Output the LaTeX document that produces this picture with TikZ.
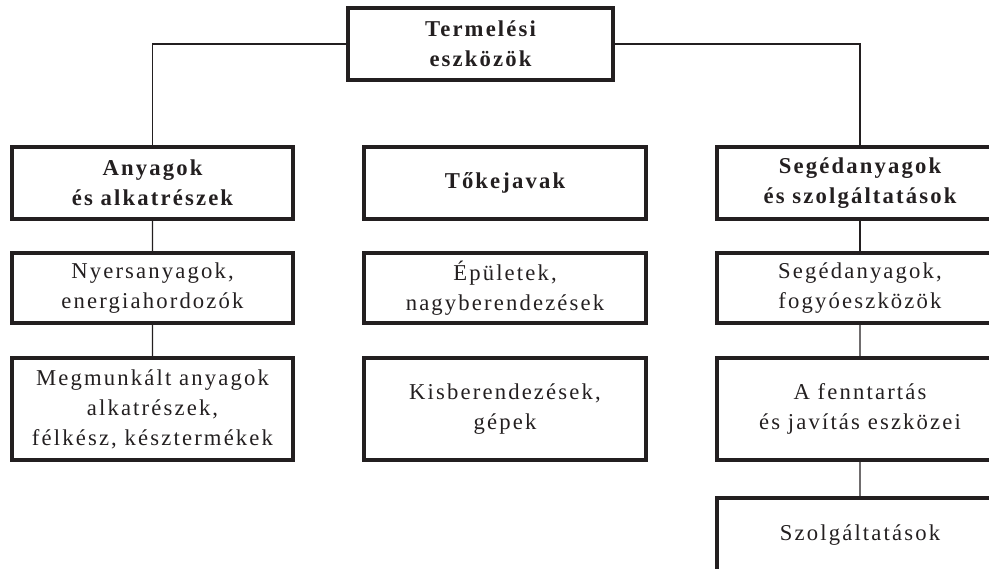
\documentclass[tikz,border=0pt]{standalone}
\usepackage{fontspec}
\setmainfont{Liberation Serif}[LetterSpace=9.5]
\usetikzlibrary{positioning}
\definecolor{ink}{HTML}{231F20}

\begin{document}
\begin{tikzpicture}[x=0.75pt,y=0.75pt,
	  level 1/.style={level distance=78.75pt},
	  level 2/.style={level distance=90.75pt},
	  level 3/.style={level distance=94.5pt},
	  edge from parent/.style={draw=ink,line width=0.8pt},
	  every node/.append style={text=ink}]
	  \tikzstyle{box} = [draw=ink,line width=2.3pt,align=center,inner sep=0pt,font=\fontsize{17}{22.5}\selectfont]
	  \tikzstyle{head} = [box,font=\fontsize{17}{22.5}\selectfont\bfseries,minimum height=54pt]
	  \tikzstyle{link} = [draw=ink,line width=0.8pt]
	  \useasboundingbox (0,0) rectangle (989,568);
	  \clip (0,0) rectangle (989,568);
	  \node (t_1) [head,minimum width=198.75pt] at (480.5,524) {Termelési\\eszközök};
	  \node (a_1) [head,minimum width=210.75pt] at (152.5,385) {Anyagok\\és alkatrészek}
	  {
	  child {node (a_2) [box,minimum width=210.75pt,minimum height=52.5pt] {Nyersanyagok,\\energiahordozók}
	    {
	    child {node (a_3) [box,minimum width=210.75pt,minimum height=76.5pt] {Megmunkált anyagok\\alkatrészek,\\félkész, késztermékek}}
	    }}
	  };
	  \node (k_1) [head,minimum width=211.5pt] at (505,385) {Tőkejavak}
	  {
	  child {node (k_2) [box,minimum width=211.5pt,minimum height=52.5pt] {Épületek,\\nagyberendezések}
	    {
	    child {node (k_3) [box,minimum width=211.5pt,minimum height=76.5pt] {Kisberendezések,\\gépek}  edge from parent [draw=none]}
	    } edge from parent [draw=none]}
	  };
	  \node (s_1) [head,minimum width=214.5pt] at (860,385) {Segédanyagok\\és szolgáltatások}
	  {
	  child {node (s_2) [box,minimum width=214.5pt,minimum height=52.5pt] {Segédanyagok,\\fogyóeszközök}
	    {
	    child {node (s_3) [box,minimum width=214.5pt,minimum height=76.5pt] {A fenntartás\\és javítás eszközei}
	      {
	      child {node (s_4) [box,minimum width=214.5pt,minimum height=55.5pt] {Szolgáltatások}}
	      }}
	    }}
	  };
	  \draw[link] (t_1.west) -| (a_1.north);
	  \draw[link] (t_1.east) -| (s_1.north);
	\end{tikzpicture}
\end{document}
